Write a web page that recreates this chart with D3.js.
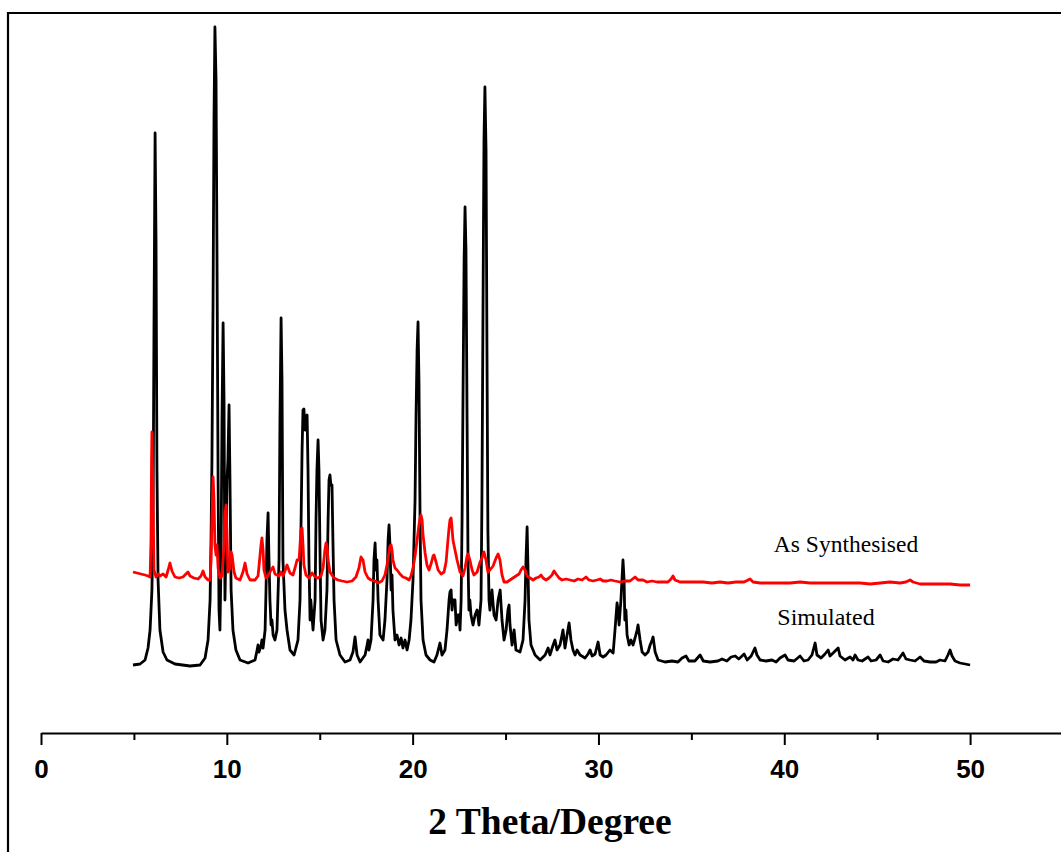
<!DOCTYPE html>
<html><head><meta charset="utf-8">
<script src="https://cdn.jsdelivr.net/npm/d3@7"></script>
<style>html,body{margin:0;padding:0;background:#fff;}svg{display:block;}</style>
</head><body>
<script>
// ---------- DATA ----------
const xTickValues = [0, 5, 10, 15, 20, 25, 30, 35, 40, 45, 50, 55];
const xTickLabels = ["0", "", "10", "", "20", "", "30", "", "40", "", "50", ""];
const xAxisTitle = "2 Theta/Degree";
const seriesNames = ["As Synthesised", "Simulated"];

// Simulated pattern (2θ in degrees, intensity a.u.)
const simTheta = [4.95,5.33,5.60,5.76,5.87,5.97,6.03,6.08,6.14,6.19,6.24,6.30,6.40,6.57,6.78,7.21,8.02,8.56,8.83,8.99,9.10,9.15,9.20,9.26,9.31,9.36,9.42,9.47,9.53,9.58,9.63,9.69,9.74,9.80,9.85,9.90,9.96,10.01,10.06,10.12,10.17,10.23,10.33,10.49,10.71,11.14,11.52,11.63,11.68,11.73,11.84,11.89,11.95,12.06,12.11,12.16,12.22,12.27,12.32,12.38,12.43,12.49,12.59,12.70,12.81,12.86,12.92,12.97,13.02,13.13,13.24,13.40,13.62,13.72,13.83,13.94,13.99,14.05,14.10,14.15,14.21,14.26,14.32,14.37,14.42,14.48,14.52,14.64,14.75,14.80,14.85,14.91,14.96,15.02,15.07,15.18,15.28,15.39,15.45,15.50,15.55,15.60,15.66,15.71,15.77,15.88,16.09,16.36,16.63,16.79,16.90,17.01,17.17,17.44,17.55,17.60,17.65,17.76,17.87,17.92,17.98,18.03,18.08,18.14,18.24,18.41,18.51,18.62,18.68,18.73,18.78,18.84,18.89,18.94,19.05,19.16,19.27,19.38,19.48,19.59,19.70,19.81,19.91,20.02,20.13,20.18,20.24,20.29,20.34,20.40,20.45,20.56,20.72,20.94,21.15,21.31,21.47,21.58,21.74,21.85,21.96,22.01,22.07,22.12,22.17,22.28,22.34,22.44,22.50,22.55,22.61,22.66,22.71,22.77,22.82,22.87,22.93,22.98,23.03,23.08,23.14,23.25,23.36,23.47,23.57,23.68,23.73,23.79,23.84,23.89,23.95,24.00,24.05,24.11,24.16,24.27,24.38,24.49,24.60,24.71,24.81,24.92,25.03,25.13,25.19,25.24,25.35,25.46,25.56,25.78,25.94,26.05,26.10,26.16,26.21,26.26,26.37,26.59,26.86,27.13,27.29,27.39,27.56,27.66,27.77,27.93,28.04,28.09,28.20,28.31,28.42,28.52,28.63,28.74,28.85,29.01,29.28,29.44,29.55,29.66,29.82,29.98,30.09,30.25,30.41,30.62,30.79,30.89,31.00,31.05,31.11,31.21,31.32,31.38,31.42,31.48,31.54,31.65,31.75,31.86,31.97,32.08,32.13,32.24,32.35,32.51,32.67,32.78,32.89,32.94,33.05,33.21,33.58,33.96,34.28,34.50,34.71,34.87,35.19,35.47,35.64,36.01,36.43,36.65,36.91,37.14,37.36,37.55,37.67,37.84,38.00,38.22,38.42,38.53,38.70,39.02,39.34,39.56,39.77,40.04,40.20,40.53,40.85,41.06,41.28,41.49,41.66,41.76,41.98,42.19,42.36,42.46,42.63,42.79,42.90,43.00,43.27,43.54,43.70,43.81,43.97,44.19,44.51,44.67,44.94,45.16,45.32,45.59,45.85,46.12,46.39,46.55,46.77,47.04,47.31,47.52,47.85,48.17,48.38,48.65,48.81,48.92,49.03,49.19,49.46,49.73,50.00];
const simIntensity = [0,1,5,17,35,75,145,335,532,425,195,85,35,13,5,1,-1,0,7,25,65,125,205,365,545,638,585,415,185,55,35,105,245,342,265,65,125,185,205,260,185,75,35,15,5,2,5,15,20,13,19,25,17,35,75,125,152,105,65,40,45,30,25,35,105,245,347,285,105,55,35,15,10,17,25,65,135,215,255,256,235,245,250,195,105,45,65,35,65,145,195,225,195,105,45,25,35,75,145,185,190,180,180,125,65,25,10,3,5,13,28,10,3,10,20,25,15,25,65,105,122,95,105,65,30,25,45,85,125,140,120,75,90,55,25,30,20,27,17,25,15,25,45,85,165,245,315,343,285,145,65,25,10,5,3,10,22,10,15,35,65,73,75,55,65,65,40,50,50,35,65,145,265,405,458,415,245,105,55,65,50,40,50,55,40,65,165,365,525,578,515,315,135,65,55,75,50,45,65,75,45,25,35,55,60,40,20,35,15,13,25,65,105,138,95,45,20,10,5,10,17,10,20,25,15,20,30,35,17,30,42,25,15,10,15,10,7,11,15,9,11,23,10,8,10,15,12,35,62,55,40,65,105,85,45,55,30,20,25,20,27,35,40,25,13,10,13,20,25,28,13,5,3,4,3,7,9,4,4,10,4,3,4,6,4,8,9,6,8,11,5,9,17,10,5,4,5,3,7,10,5,4,9,4,5,10,22,10,7,11,15,9,12,15,17,9,5,8,5,10,5,4,8,4,5,10,4,3,6,5,12,6,5,4,8,4,3,3,5,4,10,15,9,4,2,1,0];

// As-synthesised pattern (2θ in degrees, intensity a.u., same scale)
const synTheta = [4.95,5.17,5.38,5.60,5.76,5.87,5.92,5.95,5.97,6.03,6.08,6.19,6.30,6.40,6.57,6.73,6.84,6.94,7.05,7.21,7.43,7.64,7.80,7.91,8.02,8.23,8.45,8.61,8.72,8.83,8.99,9.10,9.15,9.20,9.26,9.31,9.36,9.42,9.47,9.53,9.63,9.74,9.85,9.90,9.96,10.01,10.06,10.17,10.23,10.28,10.39,10.49,10.71,10.87,10.98,11.09,11.25,11.52,11.68,11.79,11.84,11.89,11.95,12.00,12.11,12.22,12.38,12.49,12.59,12.81,12.92,13.02,13.13,13.24,13.40,13.56,13.67,13.78,13.89,13.94,13.99,14.05,14.10,14.15,14.26,14.42,14.59,14.75,14.91,15.07,15.18,15.28,15.34,15.39,15.45,15.55,15.77,15.98,16.20,16.47,16.74,16.95,17.11,17.22,17.33,17.44,17.60,17.76,17.98,18.14,18.35,18.51,18.62,18.73,18.78,18.84,18.89,18.94,19.05,19.16,19.32,19.48,19.64,19.81,19.91,20.02,20.13,20.24,20.34,20.40,20.45,20.51,20.56,20.67,20.77,20.88,20.99,21.10,21.15,21.26,21.37,21.53,21.69,21.80,21.90,21.96,22.01,22.07,22.12,22.17,22.28,22.39,22.55,22.71,22.82,22.93,22.98,23.08,23.20,23.30,23.47,23.63,23.73,23.84,23.95,24.05,24.16,24.33,24.49,24.60,24.70,24.81,24.92,25.08,25.24,25.40,25.56,25.73,25.83,25.94,26.05,26.16,26.32,26.48,26.64,26.80,26.91,27.02,27.18,27.34,27.50,27.61,27.72,27.88,28.04,28.26,28.47,28.69,28.90,29.12,29.33,29.49,29.71,29.92,30.09,30.25,30.46,30.68,30.89,31.16,31.43,31.70,31.97,32.13,32.40,32.61,32.88,33.15,33.48,33.74,33.91,34.01,34.12,34.39,34.82,35.20,35.63,36.11,36.54,36.97,37.40,37.84,38.16,38.32,38.70,39.23,39.77,40.31,40.85,41.39,41.93,42.46,43.00,43.54,44.08,44.62,45.16,45.69,46.23,46.55,46.77,46.93,47.31,47.85,48.38,48.92,49.46,50.00];
const synIntensity = [93,92,91,90,89,88,125,205,233,165,95,88,91,89,91,88,95,102,94,88,87,88,91,93,89,87,86,89,94,88,85,85,105,145,188,165,120,110,120,97,87,89,120,150,160,130,93,97,113,110,93,87,85,93,102,91,85,85,89,110,120,127,115,95,87,89,95,98,91,89,93,89,94,100,92,90,97,105,105,120,135,137,120,100,90,87,92,88,87,89,97,115,122,120,105,93,87,85,84,83,84,88,97,108,105,93,87,85,84,82,84,90,100,113,119,120,115,105,97,95,91,88,87,85,89,97,109,125,140,147,150,145,130,112,100,95,101,109,110,103,95,91,93,103,125,137,145,147,137,125,115,105,93,89,97,109,111,105,95,90,93,103,107,113,105,93,95,99,107,111,105,90,83,83,85,87,89,91,95,98,95,89,87,85,87,88,90,87,85,87,90,94,91,87,85,86,85,84,86,85,88,85,84,85,86,84,84,85,84,83,84,84,88,85,85,83,84,83,83,83,86,89,85,83,83,83,83,82,83,82,83,83,86,83,82,82,82,82,83,82,82,82,82,82,82,81,82,83,82,83,85,83,81,81,81,81,80,80];

// ---------- LAYOUT ----------
const W = 1061, H = 852;
const svg = d3.select("body").append("svg").attr("width", W).attr("height", H);

const x = d3.scaleLinear().domain([0, 55]).range([41, 1063]);
const y = d3.scaleLinear().domain([0, 640]).range([665, 25]);

// frame (top & left edges of the plot box)
svg.append("line").attr("x1", 8).attr("x2", W + 2).attr("y1", 13).attr("y2", 13)
  .attr("stroke", "#000").attr("stroke-width", 2.2);
svg.append("line").attr("x1", 8).attr("x2", 8).attr("y1", 12).attr("y2", H + 2)
  .attr("stroke", "#000").attr("stroke-width", 2.2);

// x axis
const axisY = 733;
const axis = d3.axisBottom(x).tickValues(xTickValues)
  .tickFormat((d, i) => xTickLabels[i]).tickSize(12).tickPadding(15).tickSizeOuter(0);
const gAx = svg.append("g").attr("transform", `translate(0,${axisY})`).call(axis);
gAx.select(".domain").attr("stroke", "#000").attr("stroke-width", 2.2);
gAx.selectAll(".tick line").attr("stroke", "#000").attr("stroke-width", 2)
  .attr("y2", (d, i) => xTickLabels[i] === "" ? 7 : 12);
gAx.selectAll(".tick text")
  .attr("font-family", "'Liberation Sans Narrow','Arial Narrow','Liberation Sans',Arial,sans-serif")
  .attr("font-weight", "bold").attr("font-size", 26).attr("fill", "#000");

svg.append("text").attr("x", 550).attr("y", 834).attr("text-anchor", "middle")
  .attr("font-family", "'Liberation Serif','Times New Roman',serif")
  .attr("font-weight", "bold").attr("font-size", 37.5).text(xAxisTitle);

// series
const line = d3.line().x(d => x(d[0])).y(d => y(d[1])).curve(d3.curveLinear);
const simData = simTheta.map((t, i) => [t, simIntensity[i]]);
const synData = synTheta.map((t, i) => [t, synIntensity[i]]);

svg.append("path").datum(simData).attr("d", line).attr("fill", "none")
  .attr("stroke", "#000").attr("stroke-width", 2.8).attr("stroke-linejoin", "round");
svg.append("path").datum(synData).attr("d", line).attr("fill", "none")
  .attr("stroke", "#f00").attr("stroke-width", 2.8).attr("stroke-linejoin", "round");

// series labels
svg.append("text").attr("x", 846).attr("y", 552).attr("text-anchor", "middle")
  .attr("font-family", "'Liberation Serif','Times New Roman',serif")
  .attr("font-size", 23.5).text(seriesNames[0]);
svg.append("text").attr("x", 826).attr("y", 625).attr("text-anchor", "middle")
  .attr("font-family", "'Liberation Serif','Times New Roman',serif")
  .attr("font-size", 24).text(seriesNames[1]);
</script>
</body></html>
